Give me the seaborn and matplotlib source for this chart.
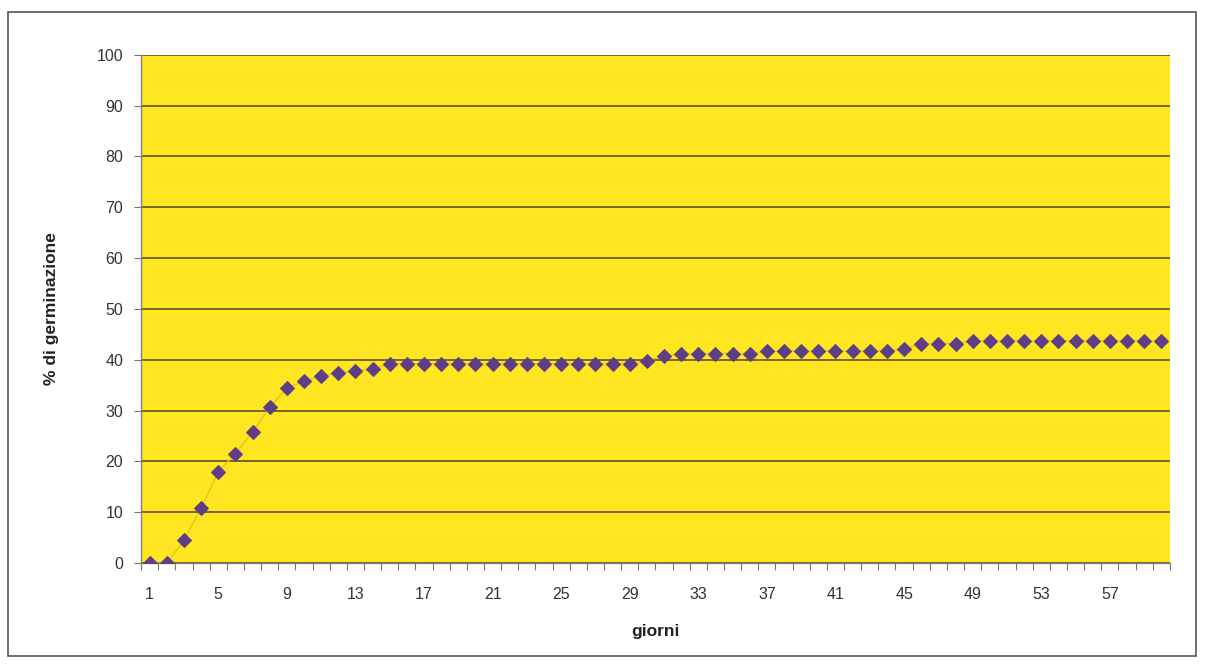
import numpy as np
import pandas as pd
import matplotlib
matplotlib.use("Agg")
import matplotlib.pyplot as plt
from matplotlib.patches import Rectangle
import seaborn as sns

# Germination curve: cumulative % of germinated seeds per day
giorni = list(range(1, 61))
germinazione = [
    0.0, 0.0, 4.5, 10.8, 18.0, 21.5, 25.8, 30.7, 34.4, 35.8,
    36.8, 37.4, 37.8, 38.2, 39.2, 39.2, 39.2, 39.2, 39.2, 39.2,
    39.2, 39.2, 39.2, 39.2, 39.2, 39.2, 39.2, 39.2, 39.2, 39.8,
    40.8, 41.2, 41.2, 41.2, 41.2, 41.2, 41.7, 41.7, 41.7, 41.7,
    41.7, 41.7, 41.7, 41.7, 42.1, 43.2, 43.2, 43.2, 43.7, 43.7,
    43.7, 43.7, 43.7, 43.7, 43.7, 43.7, 43.7, 43.7, 43.7, 43.7,
]
tick_giorni = list(range(1, 61, 4))
tick_pct = list(range(0, 101, 10))

df = pd.DataFrame({"giorni": giorni, "germinazione": germinazione})

sns.set_theme(style="white")
plt.rcParams["font.family"] = ["Liberation Sans", "DejaVu Sans"]

fig = plt.figure(figsize=(12.06, 6.68), dpi=100)
ax = fig.add_axes([0.117, 0.157, 0.853, 0.761])
ax.set_facecolor("#FFE620")

sns.lineplot(
    data=df, x="giorni", y="germinazione", ax=ax,
    color="#E8C21A", linewidth=1.0, marker="D", markersize=7,
    markerfacecolor="#5E3F86", markeredgecolor="#5E3F86", zorder=3,
)

ax.set_xlim(0.5, 60.5)
ax.set_ylim(0, 100)
ax.set_yticks(tick_pct)
ax.set_xticks(tick_giorni)
ax.set_xticks(np.arange(0.5, 61, 1), minor=True)
ax.tick_params(axis="x", which="major", length=0, pad=17, labelsize=11.5, colors="#333333")
ax.tick_params(axis="x", which="minor", length=5, width=0.8, color="#777777", bottom=True)
ax.tick_params(axis="y", which="major", length=5, width=0.8, color="#777777", left=True,
               pad=8, labelsize=11.5, labelcolor="#333333")

ax.yaxis.grid(True, color="#75652A", linewidth=1.4)
ax.xaxis.grid(False)
ax.set_axisbelow(True)

for side in ["top", "right"]:
    ax.spines[side].set_visible(False)
for side in ["left", "bottom"]:
    ax.spines[side].set_color("#808080")
    ax.spines[side].set_linewidth(1.0)

ax.set_xlabel("giorni", fontsize=12.5, fontweight="bold", color="#222222", labelpad=16)
ax.set_ylabel("% di germinazione", fontsize=12.5, fontweight="bold", color="#222222", labelpad=27)

# Outer frame around the whole chart
fig.patches.append(Rectangle((0.007, 0.018), 0.985, 0.964, transform=fig.transFigure,
                             fill=False, edgecolor="#555555", linewidth=1.2))

fig.savefig("out.png", dpi=100, facecolor="white")
